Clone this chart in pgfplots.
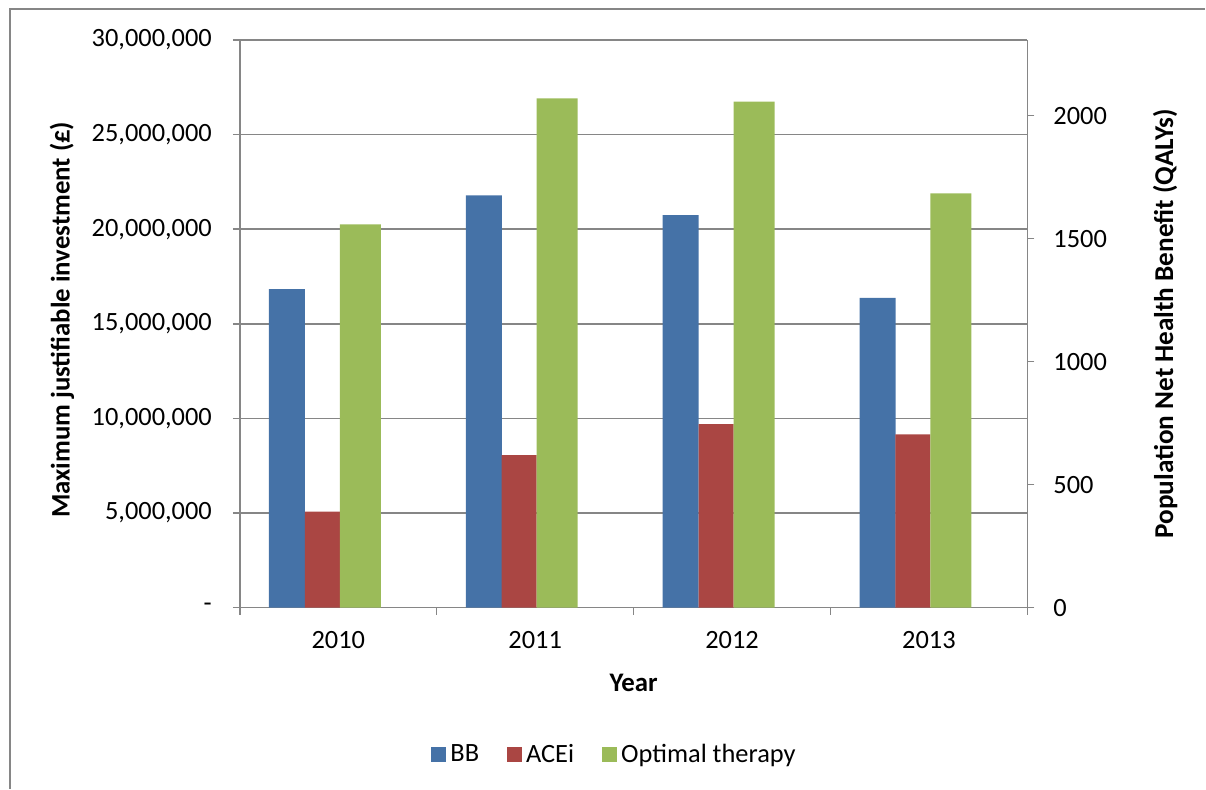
\documentclass[border=0pt]{standalone}
\usepackage{pgfplots}
\pgfplotsset{compat=1.18}
\usepackage{fontspec}
\setmainfont{Carlito}
\definecolor{bbblue}{HTML}{4572A7}
\definecolor{acered}{HTML}{AA4643}
\definecolor{optgreen}{HTML}{9BBB59}
\definecolor{axgray}{HTML}{868686}
\begin{document}
\begin{tikzpicture}
\path (0pt,0pt) rectangle (603pt,394.5pt);
\draw[axgray, line width=0.75pt] (5pt,0pt) -- (5pt,390pt) -- (603pt,390pt);
\begin{axis}[
  at={(120pt,90.5pt)}, anchor=south west,
  scale only axis, width=394pt, height=284pt,
  xmin=-0.5, xmax=3.5, ymin=0, ymax=30000000,
  axis y line*=left, axis x line*=bottom,
  axis line style={axgray, line width=0.75pt},
  tick style={axgray, line width=0.75pt},
  major tick length=3.5pt, tick align=outside,
  xtick={-0.5,0.5,1.5,2.5,3.5},
  x tick label as interval,
  xticklabels={2010,2011,2012,2013},
  ytick={0,5000000,10000000,15000000,20000000,25000000,30000000},
  yticklabels={{-},{5,000,000},{10,000,000},{15,000,000},{20,000,000},{25,000,000},{30,000,000}},
  scaled y ticks=false,
  ymajorgrids, grid style={axgray, line width=0.75pt},
  tick label style={font=\fontsize{13.2}{15}\selectfont, text=black},
  yticklabel style={xshift=-7pt},
  xticklabel style={yshift=-5pt},
  xlabel={Year},
  ylabel={Maximum justifiable investment (£)},
  label style={font=\fontsize{13.4}{15}\selectfont\bfseries, text=black},
  xlabel style={at={(axis description cs:0.5,-0.132)}, anchor=center},
  ylabel style={at={(axis description cs:-0.226,0.507)}, anchor=center},
  legend style={at={(axis description cs:0.477,-0.259)}, anchor=center, draw=none,
    font=\fontsize{13.2}{15}\selectfont, legend columns=3,
    /tikz/every even column/.append style={column sep=12pt}},
  legend image code/.code={\fill[#1] (0pt,-3.75pt) rectangle (7.5pt,3.75pt);},
]
\addplot[ybar, bar width=0.183, bar shift=-0.261, fill=bbblue, draw=none]
  coordinates {(0,16830000) (1,21790000) (2,20740000) (3,16370000)};
\addlegendentry{BB}
\addplot[ybar, bar width=0.178, bar shift=-0.081, fill=acered, draw=none]
  coordinates {(0,5070000) (1,8060000) (2,9700000) (3,9150000)};
\addlegendentry{ACEi}
\addplot[ybar, bar width=0.208, bar shift=0.112, fill=optgreen, draw=none]
  coordinates {(0,20250000) (1,26910000) (2,26740000) (3,21890000)};
\addlegendentry{Optimal therapy}
\end{axis}
\begin{axis}[
  at={(120pt,90.5pt)}, anchor=south west,
  scale only axis, width=394pt, height=284pt,
  xmin=-0.5, xmax=3.5, ymin=0, ymax=2307.7,
  axis y line*=right, axis x line=none,
  axis line style={axgray, line width=0.75pt},
  tick style={axgray, line width=0.75pt},
  major tick length=3.5pt, tick align=outside,
  ytick={0,500,1000,1500,2000},
  yticklabels={0,500,1000,1500,2000},
  tick label style={font=\fontsize{13.2}{15}\selectfont, text=black},
  yticklabel style={xshift=6pt},
  ylabel={Population Net Health Benefit (QALYs)},
  label style={font=\fontsize{13.6}{15}\selectfont\bfseries, text=black},
  ylabel style={at={(axis description cs:1.175,0.5)}, anchor=center},
]
\addplot[draw=none, forget plot] coordinates {(0,0)};
\end{axis}
\end{tikzpicture}
\end{document}
